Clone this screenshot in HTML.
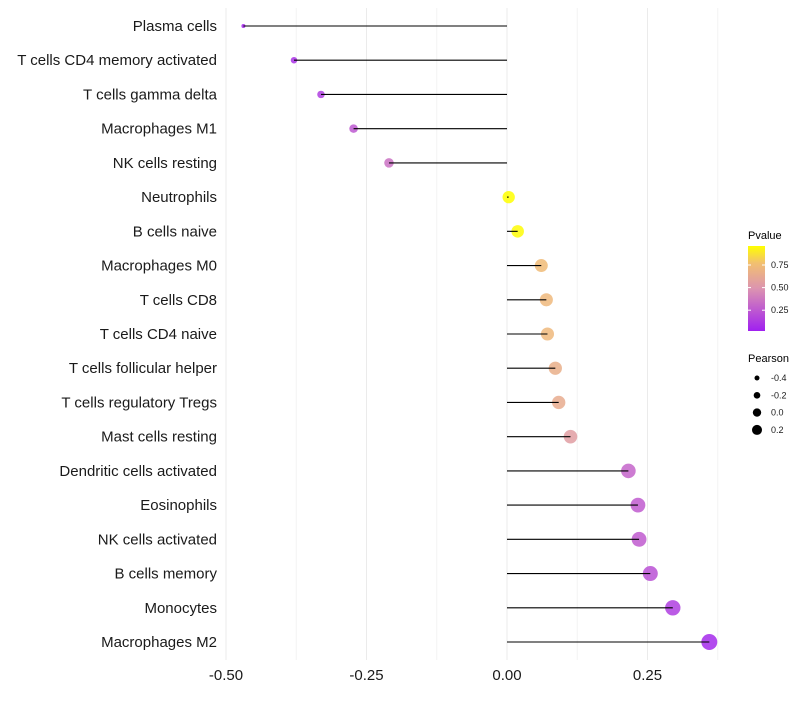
<!DOCTYPE html>
<html><head><meta charset="utf-8"><style>
body{margin:0;background:#fff;font-family:"Liberation Sans",sans-serif}
text{font-family:"Liberation Sans",sans-serif}
</style></head><body>
<svg id="chart" width="800" height="700" xmlns="http://www.w3.org/2000/svg">
<defs><linearGradient id="pg" x1="0" y1="1" x2="0" y2="0">
<stop offset="0" stop-color="#a020f0"/><stop offset="0.5" stop-color="#dc94b0"/><stop offset="0.8" stop-color="#f2c070"/><stop offset="1" stop-color="#ffff00"/></linearGradient></defs>
<g id="grid"></g>
<g id="pts"></g>
<g id="marks"></g>
<g id="ylab"></g>
<g id="xlab"></g>
<g>
<text x="748" y="239" font-size="11">Pvalue</text>
<rect x="748" y="246" width="17" height="85" fill="url(#pg)"/>
<g id="cbticks"></g>
</g>
<g>
<text x="748" y="362" font-size="11">Pearson</text>
<g id="sizeleg"></g>
</g>
</svg>
<script>
const categories=["Plasma cells","T cells CD4 memory activated","T cells gamma delta","Macrophages M1","NK cells resting","Neutrophils","B cells naive","Macrophages M0","T cells CD8","T cells CD4 naive","T cells follicular helper","T cells regulatory  Tregs ","Mast cells resting","Dendritic cells activated","Eosinophils","NK cells activated","B cells memory","Monocytes","Macrophages M2"];
const pearson=[-0.469,-0.379,-0.331,-0.273,-0.21,0.003,0.019,0.061,0.07,0.072,0.086,0.092,0.113,0.216,0.233,0.235,0.255,0.295,0.36];
const pvalue=[0.04,0.09,0.14,0.25,0.35,0.98,0.95,0.74,0.72,0.72,0.66,0.64,0.55,0.3,0.26,0.26,0.22,0.14,0.06];
const xTicks=[-0.5,-0.25,0,0.25];
const xTickLabels=["-0.50","-0.25","0.00","0.25"];
const pTicks=[0.25,0.5,0.75];
const sizeLegend=[-0.4,-0.2,0.0,0.2];
const NS="http://www.w3.org/2000/svg";
function X(v){return 507+v*562;}
function Y(i){return 26+i*(642-26)/(categories.length-1);}
function R(v){return Math.sqrt(Math.max(1,4+72*(v+0.47)));}
function RL(v){return 2.5+4.2*(v+0.4);}
const stops=[[0,"#a020f0"],[0.5,"#dc94b0"],[0.8,"#f2c070"],[1,"#ffff00"]];
function hexmix(a,b,t){const pa=[1,3,5].map(k=>parseInt(a.substr(k,2),16)),pb=[1,3,5].map(k=>parseInt(b.substr(k,2),16));return "rgb("+pa.map((c,k)=>Math.round(c+(pb[k]-c)*t)).join(",")+")";}
function col(p){const t=Math.max(0,Math.min(1,(p-0.02)/0.94));for(let k=1;k<stops.length;k++){if(t<=stops[k][0]){return hexmix(stops[k-1][1],stops[k][1],(t-stops[k-1][0])/(stops[k][0]-stops[k-1][0]));}}return stops[3][1];}
function mk(tag,at,parent){const e=document.createElementNS(NS,tag);for(const k in at)e.setAttribute(k,at[k]);parent.appendChild(e);return e;}
const grid=document.getElementById('grid');
[-0.5,-0.375,-0.25,-0.125,0,0.125,0.25,0.375].forEach(v=>{
const l=mk('line',{x1:X(v),x2:X(v),y1:8,y2:660,stroke:Number.isInteger(v*4)?'#ebebeb':'#f3f3f3','stroke-width':1},grid);


});
const marks=document.getElementById('marks'),pts=document.getElementById('pts'),yl=document.getElementById('ylab');
categories.forEach((c,i)=>{
const y=Y(i);
const pt=mk('circle',{cx:X(pearson[i]),cy:y,r:R(pearson[i]),fill:col(pvalue[i]),'fill-opacity':0.85},pts);


const ln=mk('line',{x1:X(0),x2:X(pearson[i]),y1:y,y2:y,stroke:'#000','stroke-width':1.1},marks);


const t=mk('text',{x:217,y:y+5,'text-anchor':'end','font-size':15,fill:'#1a1a1a'},yl);
t.textContent=c;


});
const xl=document.getElementById('xlab');
xTicks.forEach((v,i)=>{
const t=mk('text',{x:X(v),y:680,'text-anchor':'middle','font-size':15,fill:'#1a1a1a'},xl);
t.textContent=xTickLabels[i];


});
const cb=document.getElementById('cbticks');
pTicks.forEach(p=>{
const y=246+85*(1-(p-0.02)/0.94);
const l=mk('line',{x1:748,x2:751,y1:y,y2:y,stroke:'#fff'},cb);
const l2=mk('line',{x1:762,x2:765,y1:y,y2:y,stroke:'#fff'},cb);
const t=mk('text',{x:771,y:y+3,'font-size':9,fill:'#1a1a1a'},cb);t.textContent=p.toFixed(2);


});
const sl=document.getElementById('sizeleg');
sizeLegend.forEach((v,i)=>{
const y=378+i*17.3;
const c=mk('circle',{cx:757,cy:y,r:RL(v),fill:'#000'},sl);


const t=mk('text',{x:771,y:y+3,'font-size':9,fill:'#1a1a1a'},sl);t.textContent=v.toFixed(1);


});
</script>
</body></html>
